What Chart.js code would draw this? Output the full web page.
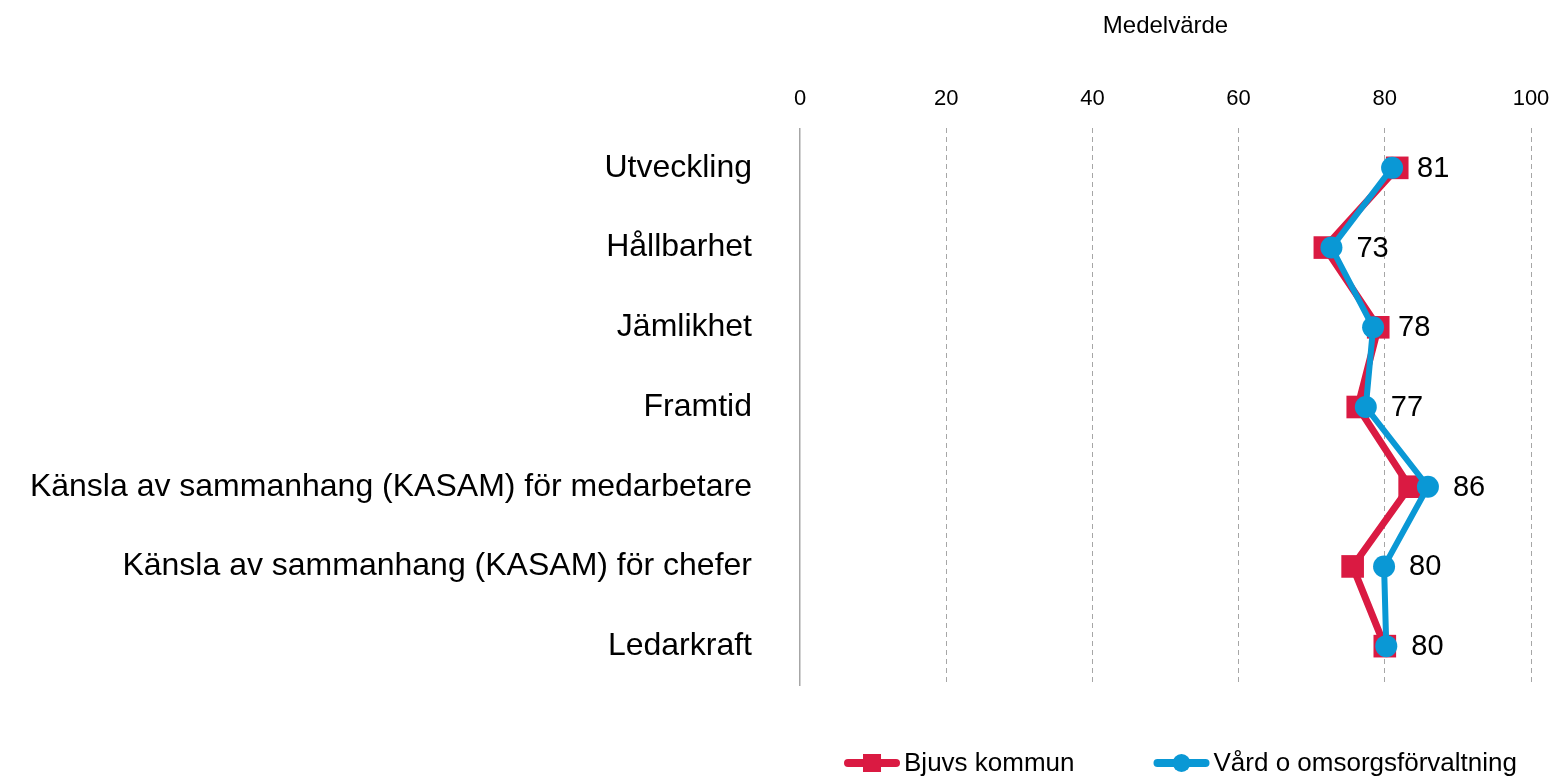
<!DOCTYPE html>
<html>
<head>
<meta charset="utf-8">
<script src="https://cdn.jsdelivr.net/npm/chart.js@4/dist/chart.umd.min.js"></script>
<style>
  html, body { margin: 0; padding: 0; background: #fff; }
  #wrap { width: 1555px; height: 779px; }
</style>
</head>
<body>
<div id="wrap"><canvas id="chart"></canvas></div>
<script>
// Chart data
const categories = [
  "Utveckling",
  "Hållbarhet",
  "Jämlikhet",
  "Framtid",
  "Känsla av sammanhang (KASAM) för medarbetare",
  "Känsla av sammanhang (KASAM) för chefer",
  "Ledarkraft"
];
const bjuvsValues = [81.7, 71.8, 79.1, 76.3, 83.4, 75.6, 80.0];
const vardValues = [81.0, 72.7, 78.4, 77.4, 85.9, 79.9, 80.2];
const vardLabels = ["81", "73", "78", "77", "86", "80", "80"];
const xTicks = [0, 20, 40, 60, 80, 100];
const seriesNames = ["Bjuvs kommun", "Vård o omsorgsförvaltning"];

const RED = "#DA1A42";
const BLUE = "#0A98D5";

// Value labels next to the blue points
const valueLabels = {
  id: "valueLabels",
  afterDatasetsDraw(chart) {
    const meta = chart.getDatasetMeta(1);
    const ctx = chart.ctx;
    ctx.save();
    ctx.font = "29px Arial";
    ctx.fillStyle = "#000";
    ctx.textAlign = "left";
    ctx.textBaseline = "middle";
    meta.data.forEach((pt, i) => ctx.fillText(vardLabels[i], pt.x + 25, pt.y + 1));
    ctx.restore();
  }
};

// Legend with line + marker, centered under the plot area
const bottomLegend = {
  id: "bottomLegend",
  afterDraw(chart) {
    const ctx = chart.ctx;
    const area = chart.chartArea;
    ctx.save();
    ctx.font = "26px Arial";
    const items = chart.data.datasets.map(ds => ({ ds, w: 60 + ctx.measureText(ds.label).width }));
    const gap = 79;
    const total = items.reduce((s, it) => s + it.w, 0) + gap * (items.length - 1);
    let x = (area.left + area.right) / 2 - total / 2 + 15;
    const y = 763;
    items.forEach(it => {
      const ds = it.ds;
      ctx.strokeStyle = ds.borderColor;
      ctx.fillStyle = ds.borderColor;
      ctx.lineWidth = 8;
      ctx.lineCap = "round";
      ctx.beginPath();
      ctx.moveTo(x + 4, y);
      ctx.lineTo(x + 52, y);
      ctx.stroke();
      if (ds.pointStyle === "rect") {
        ctx.fillRect(x + 19, y - 9, 18, 18);
      } else {
        ctx.beginPath();
        ctx.arc(x + 28, y, 9, 0, Math.PI * 2);
        ctx.fill();
      }
      ctx.fillStyle = "#000";
      ctx.textAlign = "left";
      ctx.textBaseline = "middle";
      ctx.fillText(ds.label, x + 60, y + 1);
      x += it.w + gap;
    });
    ctx.restore();
  }
};

const ctx = document.getElementById("chart").getContext("2d");
new Chart(ctx, {
  type: "line",
  data: {
    labels: categories,
    datasets: [
      {
        label: seriesNames[0],
        data: bjuvsValues,
        borderColor: RED,
        backgroundColor: RED,
        borderWidth: 7,
        pointStyle: "rect",
        pointRadius: 16,
        pointBorderWidth: 0,
        tension: 0,
        order: 1
      },
      {
        label: seriesNames[1],
        data: vardValues,
        borderColor: BLUE,
        backgroundColor: BLUE,
        borderWidth: 6,
        pointStyle: "circle",
        pointRadius: 11,
        pointBorderWidth: 0,
        tension: 0,
        order: 0
      }
    ]
  },
  options: {
    indexAxis: "y",
    responsive: true,
    maintainAspectRatio: false,
    animation: false,
    layout: { padding: { left: 0, right: 24, top: 0, bottom: 93 } },
    plugins: {
      legend: { display: false },
      tooltip: { enabled: false }
    },
    scales: {
      x: {
        type: "linear",
        position: "top",
        min: xTicks[0],
        max: xTicks[xTicks.length - 1],
        afterBuildTicks(scale) {
          scale.ticks = xTicks.map(v => ({ value: v }));
        },
        afterFit(scale) {
          scale.height = 128;
          scale.paddingLeft = 0;
          scale.paddingRight = 0;
        },
        ticks: {
          color: "#000",
          font: { family: "Arial", size: 22 },
          padding: 16
        },
        grid: {
          drawTicks: false,
          color: "#A6A6A6",
          lineWidth: ctx => (ctx.tick && ctx.tick.value === 0 ? 1.5 : 1)
        },
        border: {
          display: false,
          dash: ctx => (ctx.tick && ctx.tick.value === 0 ? [] : [5, 4])
        },
        title: {
          display: true,
          text: "Medelvärde",
          color: "#000",
          font: { family: "Arial", size: 24 },
          padding: { top: 12, bottom: 0 }
        }
      },
      y: {
        type: "category",
        offset: true,
        afterFit(scale) { scale.width = 800; },
        ticks: {
          color: "#000",
          font: { family: "Arial", size: 32 },
          padding: 48
        },
        grid: { display: false, drawTicks: false },
        border: { display: false }
      }
    }
  },
  plugins: [valueLabels, bottomLegend]
});
</script>
</body>
</html>
